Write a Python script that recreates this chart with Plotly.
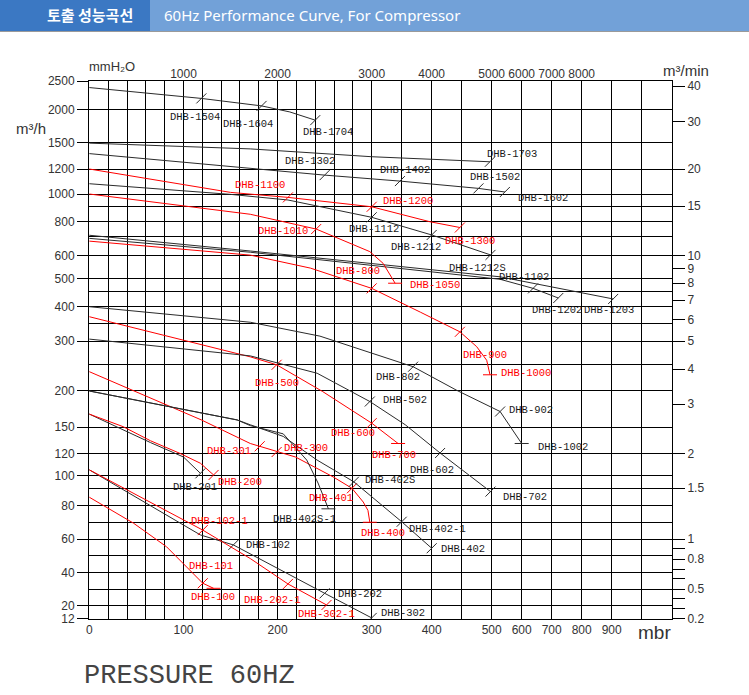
import numpy as np
import plotly.graph_objects as go

# ---------------- custom axis scales of the drawing ----------------
X_KNOT_MBR = [0, 300, 500, 1100]
X_KNOT_PX = [89.3, 371.7, 491.7, 671.7]
Y_KNOT_M3H = [12, 20, 30, 40, 50, 60, 70, 80, 90, 100, 120, 150, 200, 250, 300, 350,
              400, 450, 500, 600, 700, 800, 900, 1000, 1200, 1500, 2000, 2500]
Y_KNOT_PX = [619, 606, 589.3, 572.7, 556, 539.3, 522.3, 505.7, 488.3, 475.7, 454, 427.3,
             391, 364.3, 341, 323.3, 306.7, 291, 278.3, 255.3, 236, 221.7, 206, 194, 169,
             142.3, 109.3, 81]

X_GRID = list(range(0, 301, 20)) + [350, 400, 450, 500, 600, 700, 800, 900, 1000]
X_LABELS = [0, 100, 200, 300, 400, 500, 600, 700, 800, 900]
TOP_MMH2O = [1000, 2000, 3000, 4000, 5000, 6000, 7000, 8000]
Y_GRID = [2000, 1500, 1200, 1000, 900, 800, 700, 600, 500, 450, 400, 350, 300, 250, 200,
          150, 120, 100, 90, 80, 70, 60, 50, 40, 30, 20]
Y_LABELS = [2500, 2000, 1500, 1200, 1000, 800, 600, 500, 400, 300, 200, 150, 120, 100,
            80, 60, 40, 20, 12]
M3MIN_TICKS = [40, 30, 20, 15, 10, 9, 8, 7, 6, 5, 4, 3, 2, 1.5, 1, 0.9, 0.8, 0.7, 0.6,
               0.5, 0.4, 0.3, 0.2]
M3MIN_TEXT = ["40", "30", "20", "15", "10", "9", "8", "7", "6", "5", "4", "3", "2", "1.5",
              "1", "", "0.8", "", "", "0.5", "", "", "0.2"]

# ---------------- performance curves (x: mbar, y: m3/h) ----------------
C1704_X = [0, 65, 119, 183, 213, 240]
C1704_Y = [2375, 2265, 2180, 2055, 1955, 1820]
C1704_T = [119, 183, 240]
C1704_L = ["DHB-1504", "DHB-1604", "DHB-1704"]

C1703_X = [0, 171, 300, 402, 497]
C1703_Y = [1490, 1420, 1330, 1300, 1275]
C1703_T = [497]
C1703_L = ["DHB-1703"]

C1602_X = [0, 171, 250, 347, 478, 544]
C1602_Y = [1365, 1207, 1148, 1099, 1042, 1015]
C1602_T = [250, 347, 478, 544]
C1602_L = ["DHB-1302", "DHB-1402", "DHB-1502", "DHB-1602"]

C1212_X = [0, 150, 211, 300, 400, 498]
C1212_Y = [1078, 997, 949, 827, 707, 602]
C1212_T = [300, 400, 498]
C1212_L = ["DHB-1112", "DHB-1212", "DHB-1212S"]

C1203_X = [0, 171, 528, 905]
C1203_Y = [705, 621, 506, 424]
C1203_T = [905]
C1203_L = ["DHB-1203"]

C1202_X = [0, 171, 528, 638, 722]
C1202_Y = [687, 615, 496, 460, 427]
C1202_T = [638, 722]
C1202_L = ["DHB-1102", "DHB-1202"]

R1300_X = [0, 150, 211, 300, 397, 447]
R1300_Y = [1200, 1012, 971, 895, 800, 758]
R1300_T = [211, 300, 447]
R1300_L = ["DHB-1100", "DHB-1200", "DHB-1300"]

R1050_X = [0, 171, 241, 277, 298, 319, 339]
R1050_Y = [1000, 846, 747, 660, 618, 563, 480]
R1050_T = [241, 339]
R1050_L = ["DHB-1010", "DHB-1050"]

R1000_X = [0, 171, 235, 300, 381, 447, 475, 491.7, 497.2]
R1000_Y = [672, 601, 542, 460, 383, 325, 287, 258, 229]
R1000_T = [300, 447, 497.2]
R1000_L = ["DHB-800", "DHB-900", "DHB-1000"]

C1002_X = [0, 171, 245, 369, 442, 528, 600]
C1002_Y = [400, 353, 313, 245, 201, 170, 131]
C1002_T = [369, 528, 600]
C1002_L = ["DHB-802", "DHB-902", "DHB-1002"]

R700_X = [0, 171, 199, 248, 300, 344]
R700_Y = [369, 265, 249, 199, 155, 131]
R700_T = [199, 300, 344]
R700_L = ["DHB-500", "DHB-600", "DHB-700"]

C702_X = [0, 171, 242, 298, 356, 414, 498]
C702_Y = [305, 267, 232, 184, 153, 121, 88]
C702_T = [298, 414, 498]
C702_L = ["DHB-502", "DHB-602", "DHB-702"]

R400_X = [0, 119, 171, 181, 199, 219, 259, 279, 291, 296, 298]
R400_Y = [235, 159, 131, 128, 122, 117, 99, 90, 82, 77, 70]
R400_T = [181, 199, 279, 298]
R400_L = ["DHB-301", "DHB-300", "DHB-401", "DHB-400"]

C402_X = [0, 157, 171, 206, 242, 281, 350, 400]
C402_Y = [200, 159, 153, 139, 114, 95, 70.3, 54.4]
C402_T = [281, 350, 400]
C402_L = ["DHB-402S", "DHB-402-1", "DHB-402"]

C402S1_X = [0, 157, 171, 206, 231, 243, 254]
C402S1_Y = [200, 159, 152, 142, 114, 94, 78]
C402S1_T = [254]
C402S1_L = ["DHB-402S-1"]

C201_X = [0, 65, 100, 118]
C201_Y = [166.5, 132, 117, 102]
C201_T = [118]
C201_L = ["DHB-201"]

R200_X = [0, 36, 65, 96, 118, 132]
R200_Y = [166.5, 150.7, 134, 120.7, 111, 100.6]
R200_T = [132]
R200_L = ["DHB-200"]

C302_X = [0, 118, 153, 171, 213, 250, 300]
C302_Y = [105, 62.4, 56.4, 51.1, 38.2, 27.2, 12.5]
C302_T = [153, 250, 300]
C302_L = ["DHB-102", "DHB-202", "DHB-302"]

R302_X = [0, 64.5, 120.5, 171, 211, 252]
R302_Y = [105, 82, 65.2, 48.3, 32.9, 20.5]
R302_T = [120.5, 211, 252]
R302_L = ["DHB-102-1", "DHB-202-1", "DHB-302-1"]

R100_X = [0, 47, 82, 120.5, 132]
R100_Y = [84.7, 69.4, 55.3, 33.3, 30.5]
R100_T = [120.5, 132]
R100_L = ["DHB-101", "DHB-100"]

BLACK = "#2b2b2b"
RED = "#ff0000"

CURVES = [
    (C1704_X, C1704_Y, C1704_T, C1704_L, BLACK),
    (C1703_X, C1703_Y, C1703_T, C1703_L, BLACK),
    (C1602_X, C1602_Y, C1602_T, C1602_L, BLACK),
    (C1212_X, C1212_Y, C1212_T, C1212_L, BLACK),
    (C1203_X, C1203_Y, C1203_T, C1203_L, BLACK),
    (C1202_X, C1202_Y, C1202_T, C1202_L, BLACK),
    (R1300_X, R1300_Y, R1300_T, R1300_L, RED),
    (R1050_X, R1050_Y, R1050_T, R1050_L, RED),
    (R1000_X, R1000_Y, R1000_T, R1000_L, RED),
    (C1002_X, C1002_Y, C1002_T, C1002_L, BLACK),
    (R700_X, R700_Y, R700_T, R700_L, RED),
    (C702_X, C702_Y, C702_T, C702_L, BLACK),
    (R400_X, R400_Y, R400_T, R400_L, RED),
    (C402_X, C402_Y, C402_T, C402_L, BLACK),
    (C402S1_X, C402S1_Y, C402S1_T, C402S1_L, BLACK),
    (C201_X, C201_Y, C201_T, C201_L, BLACK),
    (R200_X, R200_Y, R200_T, R200_L, RED),
    (C302_X, C302_Y, C302_T, C302_L, BLACK),
    (R302_X, R302_Y, R302_T, R302_L, RED),
    (R100_X, R100_Y, R100_T, R100_L, RED),
]

# label placement relative to its end-point mark (pixels: right, down)
LABEL_OFFSET = {
    "DHB-1504": (-6, 19), "DHB-1604": (-14, 18), "DHB-1704": (13, 12),
    "DHB-1703": (22, -8), "DHB-1302": (-15, -14), "DHB-1402": (5, -11),
    "DHB-1502": (17, -11), "DHB-1602": (38, 6), "DHB-1112": (2, 12),
    "DHB-1212": (-16, 12), "DHB-1212S": (-13, 13), "DHB-1102": (-9, -11),
    "DHB-1202": (-1, 12), "DHB-1203": (-4, 11), "DHB-802": (-15, 10),
    "DHB-502": (35, -2), "DHB-902": (31, -2), "DHB-1002": (41, 4),
    "DHB-602": (-8, 17), "DHB-402S": (36, -2), "DHB-702": (35, 5),
    "DHB-201": (-5, 14), "DHB-402S-1": (-24, 10), "DHB-402-1": (36, 7),
    "DHB-402": (31, 1), "DHB-102": (35, 0), "DHB-202": (35, 1), "DHB-302": (31, -5),
    "DHB-1100": (-28, -12), "DHB-1200": (36, -6), "DHB-1300": (10, 13),
    "DHB-1010": (-33, 2), "DHB-1050": (40, 2), "DHB-800": (-14, -17),
    "DHB-900": (25, 23), "DHB-1000": (36, -2), "DHB-500": (0, 18),
    "DHB-600": (-19, 10), "DHB-700": (-4, 12), "DHB-301": (-31, 5),
    "DHB-300": (29, -4), "DHB-200": (26, 7), "DHB-401": (-21, 10),
    "DHB-400": (13, 11), "DHB-102-1": (17, -9), "DHB-101": (8, -17),
    "DHB-100": (-1, 9), "DHB-202-1": (-15, 16), "DHB-302-1": (0, 9),
}
FLAT_MARK = {"DHB-1050", "DHB-1000", "DHB-400", "DHB-402S-1", "DHB-100", "DHB-700", "DHB-1002"}

H = 695
ML, MR, MT, MB = 89, 77, 81, 76


def fx(v):
    return np.interp(np.asarray(v, float), X_KNOT_MBR, X_KNOT_PX)


def fy(v):
    p = np.interp(np.log10(np.asarray(v, float)), np.log10(Y_KNOT_M3H), Y_KNOT_PX)
    return H - p


def px2paper(px, py):
    return (px - ML) / (749 - ML - MR), (H - py - MB) / (H - MT - MB)


fig = go.Figure()
annotations = []
for cx, cy, tx, tl, col in CURVES:
    X = fx(cx)
    Y = fy(cy)
    fig.add_trace(go.Scatter(x=X, y=Y, mode="lines", line=dict(color=col, width=1),
                             hoverinfo="skip", showlegend=False))
    TX = fx(tx)
    TY = np.interp(TX, X, Y)
    syms = ["line-ew" if l in FLAT_MARK else "line-ne" for l in tl]
    fig.add_trace(go.Scatter(x=TX, y=TY, mode="markers",
                             marker=dict(symbol=syms, size=10, line=dict(color=col, width=1)),
                             hoverinfo="skip", showlegend=False))
    for x0, y0, lab in zip(TX, TY, tl):
        dx, dy = LABEL_OFFSET[lab]
        annotations.append(dict(x=x0, y=y0, xref="x", yref="y", text=lab, showarrow=False,
                                xshift=dx, yshift=-dy, xanchor="center", yanchor="middle",
                                font=dict(family="Liberation Mono", size=10.5,
                                          color=RED if col == RED else "#1a1a1a")))

# dummy traces so the extra axes are drawn
fig.add_trace(go.Scatter(x=[None], y=[None], xaxis="x2", yaxis="y", showlegend=False))
fig.add_trace(go.Scatter(x=[None], y=[None], xaxis="x", yaxis="y2", showlegend=False))
fig.add_trace(go.Scatter(x=[None], y=[None], xaxis="x", yaxis="y3", showlegend=False))

EPS = 0.05
XR = [ML - EPS, 749 - MR + EPS]
YR = [MB - EPS, H - MT + EPS]
tickfont = dict(family="Liberation Sans", size=12, color="#333")

fig.update_layout(
    width=749, height=H,
    margin=dict(l=ML, r=MR, t=MT, b=MB, pad=0),
    paper_bgcolor="white", plot_bgcolor="white", showlegend=False,
    xaxis=dict(range=XR, tickvals=fx(X_GRID).tolist(),
               ticktext=[str(v) if v in X_LABELS else "" for v in X_GRID],
               showgrid=True, gridcolor="#000", gridwidth=1, zeroline=False,
               showline=True, linecolor="#000", linewidth=1, mirror=True, ticks="",
               tickfont=tickfont, fixedrange=True),
    xaxis2=dict(range=XR, overlaying="x", side="top", anchor="y",
                tickvals=fx([v / 10 for v in TOP_MMH2O]).tolist(),
                ticktext=[str(v) for v in TOP_MMH2O], showgrid=False, zeroline=False,
                ticks="", showline=False, tickfont=tickfont),
    yaxis=dict(range=YR, tickvals=fy(Y_GRID).tolist(), showticklabels=False,
               showgrid=True, gridcolor="#000", gridwidth=1, zeroline=False,
               showline=True, linecolor="#000", linewidth=1, mirror=True, ticks=""),
    yaxis3=dict(range=YR, overlaying="y", side="left", anchor="x",
                tickvals=fy(Y_LABELS).tolist(), ticktext=[str(v) for v in Y_LABELS],
                ticks="outside", ticklen=11, tickcolor="#000", tickwidth=1,
                showgrid=False, zeroline=False, showline=False, tickfont=tickfont),
    yaxis2=dict(range=YR, overlaying="y", side="right", anchor="x",
                tickvals=fy([m * 60 for m in M3MIN_TICKS]).tolist(), ticktext=M3MIN_TEXT,
                ticks="outside", ticklen=12, tickcolor="#000", tickwidth=1,
                showgrid=False, zeroline=False, showline=False, tickfont=tickfont),
)

# header bar
shapes = []
x0, y0 = px2paper(0, 0)
x1, y1 = px2paper(150, 31)
shapes.append(dict(type="rect", xref="paper", yref="paper", x0=x0, y0=y0, x1=x1, y1=y1,
                   fillcolor="#3b78c3", line=dict(width=0), layer="above"))
x0b, _ = px2paper(150, 0)
x1b, _ = px2paper(749, 0)
shapes.append(dict(type="rect", xref="paper", yref="paper", x0=x0b, y0=y0, x1=x1b, y1=y1,
                   fillcolor="#72a1d8", line=dict(width=0), layer="above"))
_, yl = px2paper(0, 31.5)
shapes.append(dict(type="line", xref="paper", yref="paper", x0=x0, y0=yl, x1=x1b, y1=yl,
                   line=dict(color="#9a9a9a", width=1)))
fig.update_layout(shapes=shapes)


def text_at(px, py, s, size, color="#222", family="Liberation Sans", anchor="left", **kw):
    xp, yp = px2paper(px, py)
    annotations.append(dict(x=xp, y=yp, xref="paper", yref="paper", text=s, showarrow=False,
                            xanchor=anchor, yanchor="middle",
                            font=dict(family=family, size=size, color=color), **kw))


text_at(135, 15, "<b>토출 성능곡선</b>", 15, "white", "Noto Sans CJK KR", anchor="right")
text_at(162, 15, "60Hz Performance Curve, For Compressor", 15, "white", "Noto Sans")
text_at(87, 66, "mmH₂O", 13, "#333")
text_at(14, 128, "m³/h", 15, "#333")
text_at(661, 70, "m³/min", 15, "#333")
text_at(636, 632, "mbr", 19, "#333")
text_at(82, 676, "PRESSURE 60HZ", 27, "#444", "Liberation Mono")

fig.update_layout(annotations=annotations)
fig.write_html("out.html", config={"displayModeBar": False},
               post_script="document.body.style.margin='0';")
